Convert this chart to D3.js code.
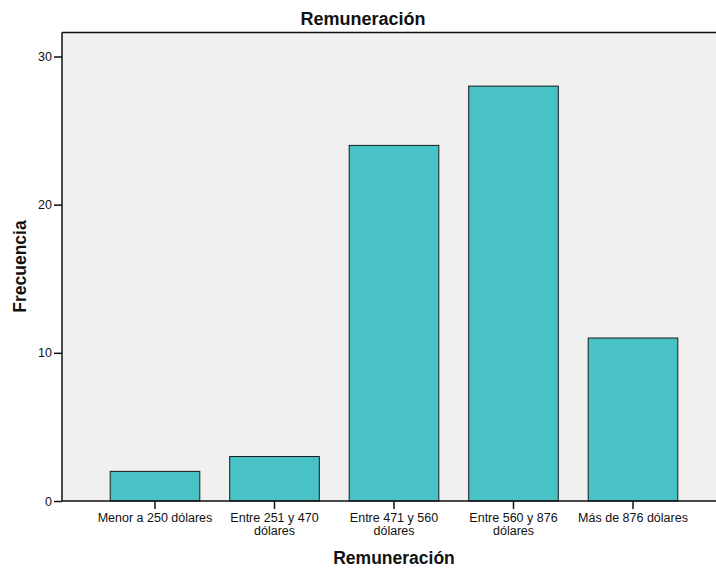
<!DOCTYPE html>
<html><head><meta charset="utf-8">
<script src="https://cdn.jsdelivr.net/npm/d3@7"></script>
<style>body{margin:0;background:#fff}svg{display:block;font-family:"Liberation Sans",Arial,sans-serif}</style>
</head><body>
<svg id="c" width="716" height="569"></svg>
<script>
const categories = [["Menor a 250 dólares"], ["Entre 251 y 470", "dólares"], ["Entre 471 y 560", "dólares"], ["Entre 560 y 876", "dólares"], ["Más de 876 dólares"]];
const values = [2, 3, 24, 28, 11];
const yTicks = [0, 10, 20, 30];
const chartTitle = "Remuneración";
const xTitle = "Remuneración";
const yTitle = "Frecuencia";

const svg = d3.select("#c");
const plotL = 62, plotT = 32.5, plotR = 716, plotB = 501;
const keys = categories.map((c, i) => i);
const x = d3.scaleBand().domain(keys).range([95.25, 692.75]).paddingInner(0.25).paddingOuter(0.125);
const y = d3.scaleLinear().domain([0, 30]).range([plotB, 56.5]);

svg.append("rect").attr("x", plotL).attr("y", plotT).attr("width", plotR - plotL).attr("height", plotB - plotT).attr("fill", "#f0f0f0");

svg.append("g").selectAll("rect").data(values).join("rect")
  .attr("x", (d, i) => x(i)).attr("y", d => y(d))
  .attr("width", x.bandwidth()).attr("height", d => plotB - y(d))
  .attr("fill", "#48c2c5").attr("stroke", "#1a1a1a").attr("stroke-width", 1);

// top border
svg.append("line").attr("x1", plotL).attr("x2", plotR).attr("y1", plotT).attr("y2", plotT).attr("stroke", "#111").attr("stroke-width", 1.5);

// y axis
const ya = svg.append("g").attr("transform", `translate(${plotL},0)`)
  .call(d3.axisLeft(y).tickValues(yTicks).tickSize(8).tickPadding(2).tickSizeOuter(0));
ya.select(".domain").remove();
ya.selectAll(".tick line").attr("stroke", "#111").attr("stroke-width", 1.5);
ya.selectAll(".tick text").attr("font-size", "12.5px").attr("fill", "#111").attr("font-family", null);
svg.append("line").attr("x1", plotL).attr("x2", plotL).attr("y1", plotT).attr("y2", plotB).attr("stroke", "#111").attr("stroke-width", 1.5);

// x axis
const xa = svg.append("g").attr("transform", `translate(0,${plotB})`)
  .call(d3.axisBottom(x).tickSize(8).tickFormat(""));
xa.select(".domain").remove();
xa.selectAll(".tick line").attr("stroke", "#111").attr("stroke-width", 1.5);
svg.append("line").attr("x1", plotL).attr("x2", plotR).attr("y1", plotB).attr("y2", plotB).attr("stroke", "#111").attr("stroke-width", 1.5);

const lab = svg.append("g");
categories.forEach((lines, i) => {
  const t = lab.append("text").attr("text-anchor", "middle").attr("font-size", "12.5px").attr("fill", "#111");
  lines.forEach((ln, j) => {
    t.append("tspan").attr("x", x(i) + x.bandwidth() / 2).attr("y", 522 + j * 12.5).text(ln);
  });
});

svg.append("text").attr("x", 363).attr("y", 25).attr("text-anchor", "middle")
  .attr("font-size", "18px").attr("font-weight", "bold").attr("fill", "#111").text(chartTitle);
svg.append("text").attr("x", 394).attr("y", 564).attr("text-anchor", "middle")
  .attr("font-size", "17.5px").attr("font-weight", "bold").attr("fill", "#111").text(xTitle);
svg.append("text").attr("transform", "translate(26,266.5) rotate(-90)").attr("text-anchor", "middle")
  .attr("font-size", "17.5px").attr("font-weight", "bold").attr("fill", "#111").text(yTitle);
</script>
</body></html>
